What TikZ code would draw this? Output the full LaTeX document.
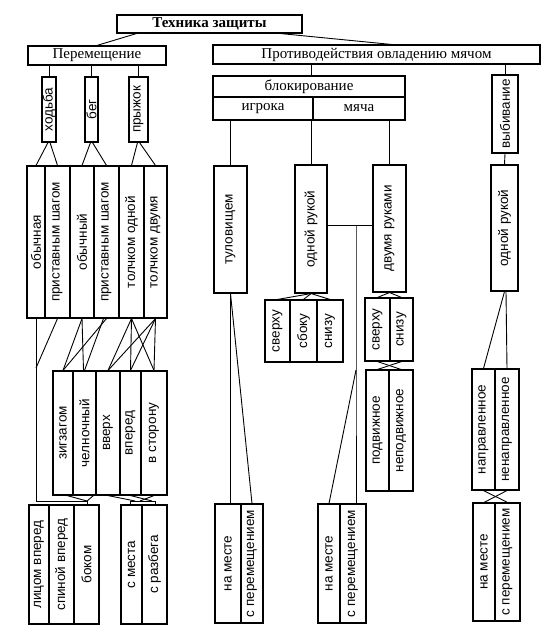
\documentclass[tikz,border=0pt]{standalone}
\usepackage{fontspec}
\setmainfont{Liberation Serif}
\newfontfamily\lsans{Liberation Sans}
\newcommand\vcell[6]{\node[vc, minimum width={#4-#2}, minimum height={#5-#3}] (#1) at ({(#2+#4)/2},{(#3+#5)/2}) {\rotatebox{90}{#6}};}
\newcommand\hcell[6]{\node[hc, minimum width={#4-#2}, minimum height={#5-#3}] (#1) at ({(#2+#4)/2},{(#3+#5)/2}) {#6};}
\begin{document}
\begin{tikzpicture}[x=1pt,y=-1pt, line width=1.1pt,
  vc/.style={draw, line width=1.1pt, inner sep=0pt, font=\lsans\fontsize{13.5}{14}\selectfont},
  hc/.style={draw, line width=1.1pt, inner sep=0pt, font=\fontsize{15}{16}\selectfont},
  cn/.style={line width=0.9pt}]
\fill[white] (0,0) rectangle (550,637);
\useasboundingbox (0,0) rectangle (550,637);
% headers
\hcell{tech}{117}{15}{302}{33}{\bfseries Техника защиты}
\hcell{per}{28}{46}{166}{65}{Перемещение}
\hcell{prot}{213}{45}{540}{64}{Противодействия овладению мячом}
\hcell{blok}{213}{76}{405}{97}{блокирование}
\hcell{igr}{213}{97}{313}{120}{игрока}
\hcell{mya}{313}{97}{405}{120}{мяча}
% left branch
\vcell{xod}{42}{77}{56}{142}{ходьба}
\vcell{beg}{85}{77}{98}{142}{бег}
\vcell{pry}{129}{77}{148}{142}{прыжок}
\vcell{ob1}{27}{166}{45}{318}{обычная}
\vcell{pr1}{45}{166}{70}{318}{приставным шагом}
\vcell{ob2}{70}{166}{94}{318}{обычный}
\vcell{pr2}{94}{166}{119}{318}{приставным шагом}
\vcell{to1}{119}{166}{144}{318}{толчком одной}
\vcell{to2}{144}{166}{167}{318}{толчком двумя}
\vcell{zig}{53}{371}{73}{495}{зигзагом}
\vcell{che}{73}{371}{96}{495}{челночный}
\vcell{vve}{96}{371}{120}{495}{вверх}
\vcell{vpe}{120}{371}{141}{495}{вперед}
\vcell{vst}{141}{371}{167}{495}{в сторону}
\vcell{lic}{29}{505}{49}{624}{лицом вперед}
\vcell{spi}{49}{505}{74}{624}{спиной вперед}
\vcell{bok}{74}{505}{99}{624}{боком}
\vcell{smе}{121}{505}{142}{624}{с места}
\vcell{sra}{142}{505}{167}{624}{с разбега}
% right branch
\vcell{vyb}{492}{75}{518}{153}{выбивание}
\vcell{tul}{214}{166}{247}{293}{туловищем}
\vcell{od1}{295}{165}{327}{293}{одной рукой}
\vcell{dvu}{373}{165}{406}{292}{двумя руками}
\vcell{od2}{491}{165}{518}{291}{одной рукой}
\vcell{sv1}{265}{300}{290}{362}{сверху}
\vcell{sb1}{290}{300}{317}{362}{сбоку}
\vcell{sn1}{317}{300}{343}{362}{снизу}
\vcell{sv2}{365}{298}{390}{361}{сверху}
\vcell{sn2}{390}{298}{413}{361}{снизу}
\vcell{pod}{366}{370}{389}{491}{подвижное}
\vcell{nep}{389}{370}{413}{491}{неподвижное}
\vcell{nap}{472}{369}{495}{490}{направленное}
\vcell{nen}{495}{369}{519}{490}{ненаправленное}
\vcell{nm1}{215}{504}{241}{623}{на месте}
\vcell{sp1}{241}{504}{263}{623}{с перемещением}
\vcell{nm2}{318}{504}{340}{623}{на месте}
\vcell{sp2}{340}{504}{366}{623}{с перемещением}
\vcell{nm3}{473}{503}{495}{621}{на месте}
\vcell{sp3}{495}{503}{520}{621}{с перемещением}
% helper coordinates
\coordinate (wj) at (36,368);
\coordinate (lbL) at (36,501);
\coordinate (lbR) at (87,501);
\coordinate (rbL) at (130,501);
\coordinate (rbR) at (155,501);
\coordinate (hj) at (356,225);
\coordinate (sj) at (356,370);
% connectors top
\draw[cn] ([xshift=20pt]tech.south west) -- (per.north);
\draw[cn] ([xshift=-22pt]tech.south east) -- ([xshift=15pt]prot.north);
\draw[cn] (xod.north |- per.south) -- (xod.north);
\draw[cn] (beg.north |- per.south) -- (beg.north);
\draw[cn] (pry.north |- per.south) -- (pry.north);
\draw[cn] ([xshift=-1pt]xod.south) -- (ob1.north);
\draw[cn] ([xshift=1pt]xod.south) -- (pr1.north);
\draw[cn] ([xshift=-1pt]beg.south) -- (ob2.north);
\draw[cn] ([xshift=1pt]beg.south) -- (pr2.north);
\draw[cn] ([xshift=-1pt]pry.south) -- (to1.north);
\draw[cn] ([xshift=1pt]pry.south) -- (to2.north);
% six -> five
\draw[cn] (ob1.south) -- (lbL);
\draw[cn] (pr1.south) -- (wj);
\draw[cn] (ob2.south) -- (zig.north);
\draw[cn] (ob2.south) -- ([xshift=-1pt]che.north);
\draw[cn] (pr2.south) -- (zig.north);
\draw[cn] ([xshift=-3pt]pr2.south) -- (che.north);
\foreach \s in {to1,to2}{
  \foreach \t in {vve,vpe,vst}{
    \draw[cn] (\s.south) -- (\t.north);
  }
}
% five -> bottom
\draw[cn] (lbL) -- (lbR) -- (lbR |- lic.north);
\draw[cn] ([xshift=4pt]zig.south) -- (lbR);
\draw[cn] ([xshift=9pt]che.south) -- (lbR);
\draw[cn] (rbL |- smе.north) -- (rbL) -- (rbR) -- (rbR |- smе.north);
\draw[cn] (vve.south) -- ([xshift=5pt]rbL);
\draw[cn] (vpe.south) -- ([xshift=-3pt]rbR);
\draw[cn] (vst.south) -- ([xshift=10pt]rbL);
% right side
\draw[cn] ([xshift=2pt]blok.north |- prot.south) -- ([xshift=2pt]blok.north);
\draw[cn] (vyb.north |- prot.south) -- (vyb.north);
\draw[cn] (vyb.south) -- (od2.north);
\draw[cn] (tul.north |- igr.south) -- (tul.north);
\draw[cn] (od1.north |- mya.south) -- (od1.north);
\draw[cn] (dvu.north |- mya.south) -- (dvu.north);
\draw[cn] (od1.east |- hj) -- (dvu.west |- hj);
\draw[cn] (hj) -- (sj) -- (sj |- sp2.north);
\draw[cn] (sj) -- (nm2.north);
\draw[cn] (tul.south) -- (tul.south |- nm1.north);
\draw[cn] (tul.south) -- (sp1.north);
\draw[cn] (od1.south) -- (sv1.north);
\draw[cn] (od1.south) -- (sb1.north);
\draw[cn] (od1.south) -- (sn1.north);
\draw[cn] (dvu.south) -- (sv2.north);
\draw[cn] (dvu.south) -- (sn2.north);
\draw[cn] (sv2.south) -- (nep.north);
\draw[cn] (sn2.south) -- (pod.north);
\draw[cn] (od2.south) -- (nap.north);
\draw[cn] ([xshift=1.5pt]od2.south) -- (nen.north);
\draw[cn] (nap.south) -- (sp3.north);
\draw[cn] (nen.south) -- (nm3.north);
\end{tikzpicture}
\end{document}
